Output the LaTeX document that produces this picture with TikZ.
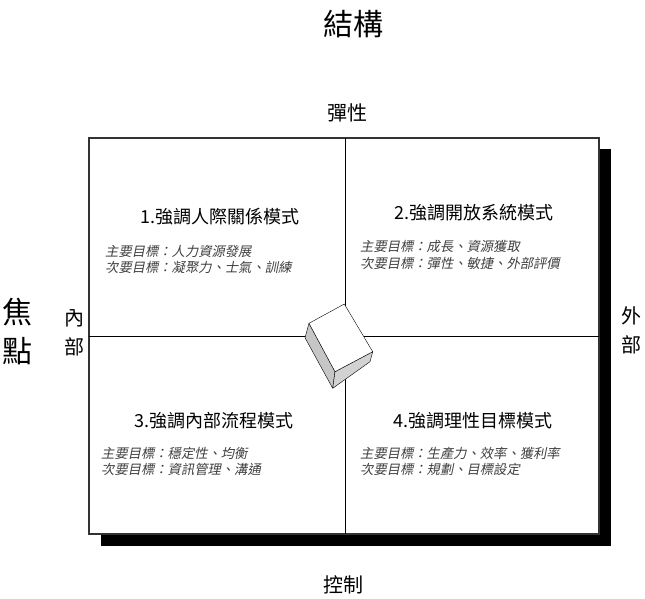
\documentclass[tikz,border=0pt]{standalone}
\usepackage{fontspec}
\setmainfont{Noto Sans CJK TC}
\newfontfamily\goalfont[FakeSlant=0.2]{Noto Sans CJK TC}
\tikzset{
  biglabel/.style={inner sep=0pt,align=center,font=\fontsize{30}{39}\selectfont},
  sidelabel/.style={inner sep=0pt,align=center,font=\fontsize{20}{29}\selectfont},
  quadtitle/.style={inner sep=0pt,font=\fontsize{18}{18}\selectfont},
  goal/.style={anchor=west,inner sep=0pt,text=black!75,font=\goalfont\fontsize{13.3}{13.3}\selectfont},
  cubeside/.style={fill=gray!45,draw=black,line join=round},
}
\begin{document}
\begin{tikzpicture}[x=1pt,y=-1pt]
\useasboundingbox (0,0) rectangle (645,599);
% shadow and frame
\fill (599,149) rectangle (611,546);
\fill (101,534) rectangle (611,546);
\draw[black!80,line width=1.2pt,fill=white] (89,138) rectangle (599,534);
\draw[line width=1pt] (345,138) -- (345,534);
\draw[line width=1pt] (89,336) -- (599,336);
% cube in the middle
\draw[cubeside] (309,323.3) -- (335,371.7) -- (332.7,388.3) -- (305,337.7) -- cycle;
\draw[cubeside,fill=gray!35] (335,371.7) -- (372.7,351.7) -- (370,361.7) -- (332.7,388.3) -- cycle;
\draw[fill=white,line join=round] (344.3,304) -- (372.7,351.7) -- (335,371.7) -- (309,323.3) -- cycle;
% axis labels
\node[biglabel] (struct) at (353,24) {結構};
\node[biglabel] (focus) at (17,331.5) {焦\\點};
\node[sidelabel] (flex) at (347,113) {彈性};
\node[sidelabel] (ctrl) at (343,585) {控制};
\node[sidelabel] (inner) at (74,332.5) {內\\部};
\node[sidelabel] (outer) at (631,330) {外\\部};
% quadrant 1
\node[quadtitle] (q1) at (220,217) {1.強調人際關係模式};
\node[goal] (q1a) at (105,251) {主要目標：人力資源發展};
\node[goal] (q1b) at (105,267) {次要目標：凝聚力、士氣、訓練};
% quadrant 2
\node[quadtitle] (q2) at (474,213) {2.強調開放系統模式};
\node[goal] (q2a) at (360,246) {主要目標：成長、資源獲取};
\node[goal] (q2b) at (360,263) {次要目標：彈性、敏捷、外部評價};
% quadrant 3
\node[quadtitle] (q3) at (214,421) {3.強調內部流程模式};
\node[goal] (q3a) at (101,453) {主要目標：穩定性、均衡};
\node[goal] (q3b) at (101,469) {次要目標：資訊管理、溝通};
% quadrant 4
\node[quadtitle] (q4) at (473,421) {4.強調理性目標模式};
\node[goal] (q4a) at (360,453) {主要目標：生產力、效率、獲利率};
\node[goal] (q4b) at (360,469) {次要目標：規劃、目標設定};
\end{tikzpicture}
\end{document}
